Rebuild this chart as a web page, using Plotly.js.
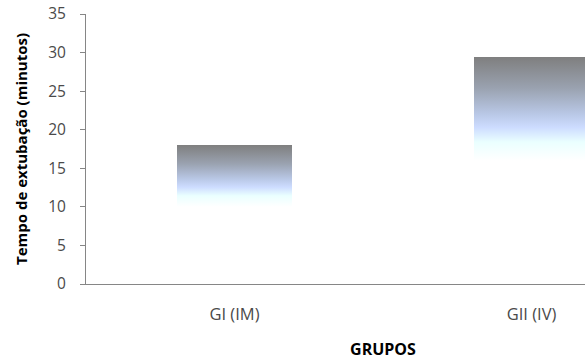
<!DOCTYPE html>
<html>
<head>
<meta charset="utf-8">
<script src="https://cdn.plot.ly/plotly-3.0.1.min.js"></script>
<style>
  html, body { margin: 0; padding: 0; background: #fff; overflow: hidden; }
  #chart { width: 585px; height: 360px; overflow: hidden; }
</style>
</head>
<body>
<div id="chart"></div>
<script>
// Extubation time range per group (minutes): bar runs from minimum to maximum
const groups = ['GI (IM)', 'GII (IV)'];
const minValues = [10, 16];
const maxValues = [18, 29.4];
const yTicks = [0, 5, 10, 15, 20, 25, 30, 35];

const spans = maxValues.map((v, i) => v - minValues[i]);

const trace = {
  type: 'bar',
  x: groups,
  y: spans,
  base: minValues,
  width: 0.39,
  marker: { color: '#c8d7ff', line: { width: 0 } },
  hoverinfo: 'none'
};

const fontFamily = '"Open Sans", sans-serif';

// The plot area is wider than the 585px frame; its right part is cut off by the container
const layout = {
  width: 680,
  height: 360,
  margin: { l: 86, r: 0, t: 14, b: 76, pad: 0 },
  paper_bgcolor: '#fff',
  plot_bgcolor: '#fff',
  showlegend: false,
  bargap: 0,
  font: { family: fontFamily, size: 14, color: '#404040' },
  xaxis: {
    type: 'category',
    range: [-0.5, 1.5],
    showgrid: false,
    zeroline: false,
    showline: true,
    linecolor: '#868686',
    linewidth: 1,
    ticks: '',
    ticklabelstandoff: 15,
    tickfont: { family: fontFamily, size: 16.5, color: '#4a4a4a' },
    title: { text: '<b>GRUPOS</b>', font: { family: fontFamily, size: 16, color: '#000' }, standoff: 20 },
    fixedrange: true
  },
  yaxis: {
    range: [0, 35],
    tickvals: yTicks,
    ticktext: yTicks.map(String),
    showgrid: false,
    zeroline: false,
    showline: true,
    linecolor: '#868686',
    linewidth: 1,
    ticks: 'outside',
    ticklen: 5,
    tickcolor: '#868686',
    ticklabelstandoff: 11,
    tickfont: { family: fontFamily, size: 15.5, color: '#4a4a4a' },
    title: { text: '<b>Tempo de extubação (minutos)</b>', font: { family: fontFamily, size: 15, color: '#000' }, standoff: 16 },
    fixedrange: true
  }
};

// Vertical gradient fill for the range bars: gray at the top fading to pale cyan/white
function applyGradient(gd) {
  const svg = gd.querySelector('svg.main-svg');
  const ns = 'http://www.w3.org/2000/svg';
  let defs = svg.querySelector('defs');
  if (!defs) { defs = document.createElementNS(ns, 'defs'); svg.insertBefore(defs, svg.firstChild); }
  const grad = document.createElementNS(ns, 'linearGradient');
  grad.setAttribute('id', 'rangeBarFill');
  grad.setAttribute('x1', '0'); grad.setAttribute('y1', '0');
  grad.setAttribute('x2', '0'); grad.setAttribute('y2', '1');
  const stops = [
    [0, '#7f7f7f'],
    [0.3, '#9aa2b0'],
    [0.55, '#b9c8e6'],
    [0.68, '#cddcff'],
    [0.82, '#eaffff'],
    [1, '#ffffff']
  ];
  stops.forEach(([o, c]) => {
    const s = document.createElementNS(ns, 'stop');
    s.setAttribute('offset', o);
    s.setAttribute('stop-color', c);
    grad.appendChild(s);
  });
  defs.appendChild(grad);
  gd.querySelectorAll('.bars .point path').forEach(p => {
    p.style.fill = 'url(#rangeBarFill)';
    p.style.fillOpacity = 1;
  });
}

Plotly.newPlot('chart', [trace], layout, { displayModeBar: false, staticPlot: true })
  .then(applyGradient);
</script>
</body>
</html>
